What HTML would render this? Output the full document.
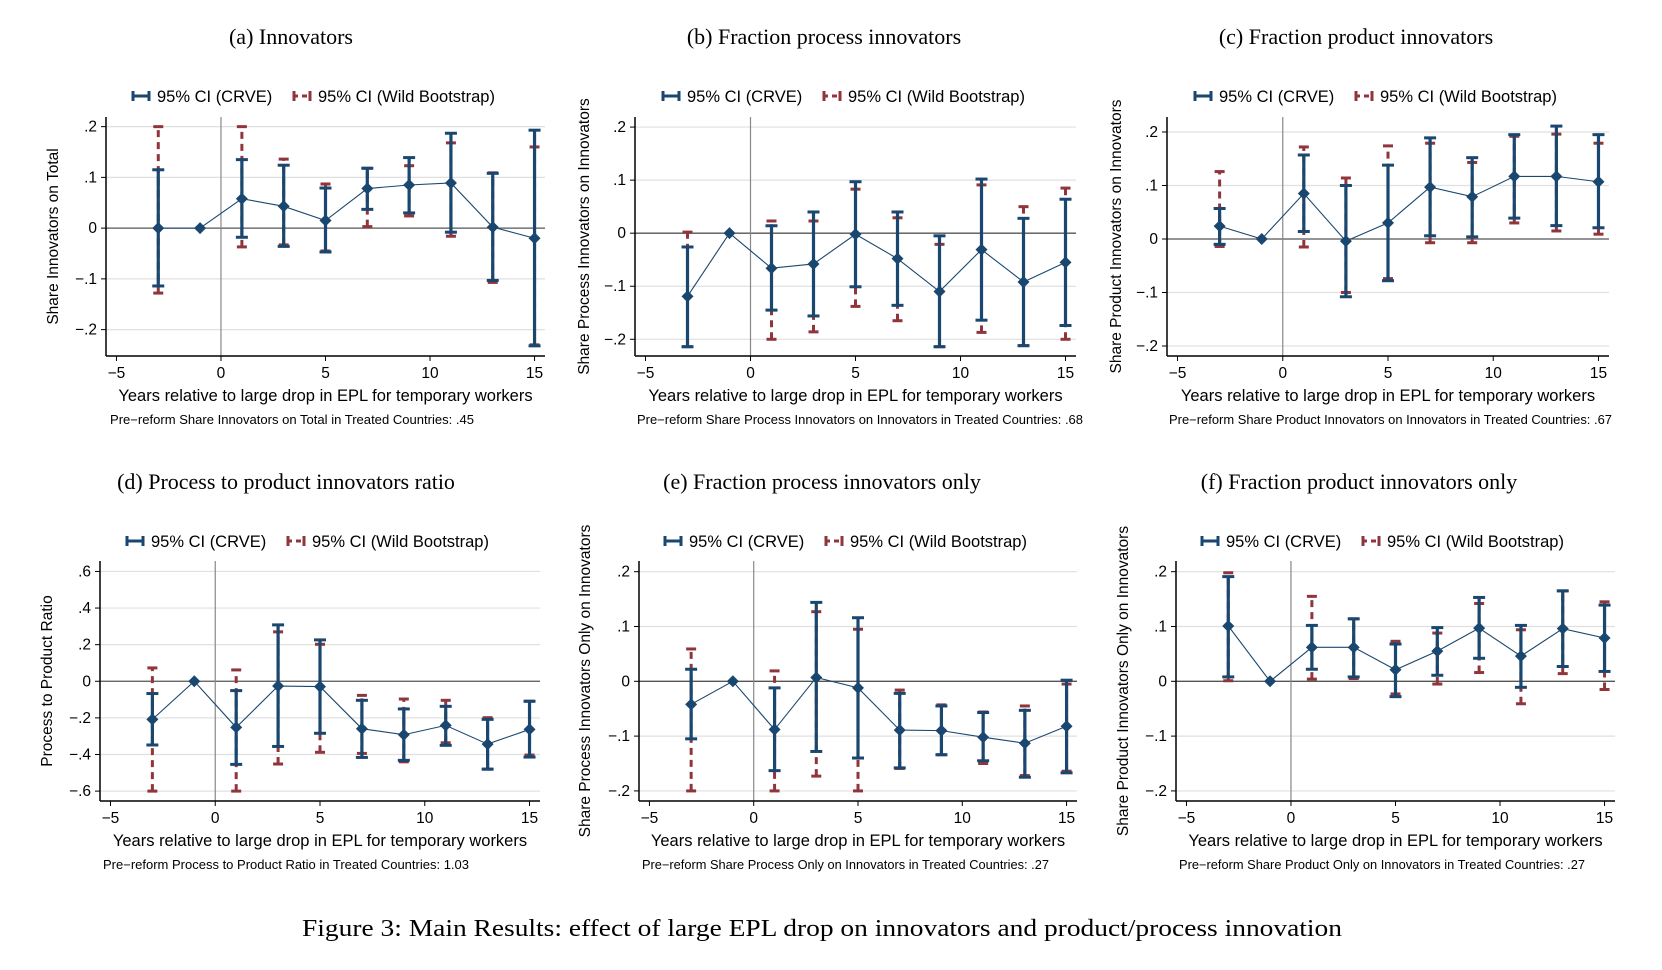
<!DOCTYPE html>
<html><head><meta charset="utf-8">
<style>
html,body{margin:0;padding:0;background:#fff;}
svg{display:block;}
text{font-family:"Liberation Sans",sans-serif;fill:#000;}
.serif{font-family:"Liberation Serif",serif;}
</style></head>
<body>
<svg id="fig" width="1662" height="970" viewBox="0 0 1662 970" xmlns="http://www.w3.org/2000/svg">
<text class="serif" x="822" y="936" text-anchor="middle" font-size="24" textLength="1040" lengthAdjust="spacingAndGlyphs">Figure 3: Main Results: effect of large EPL drop on innovators and product/process innovation</text>
</svg>
<script>
const years = [-3,-1,1,3,5,7,9,11,13,15];
const xTicks = [-5,0,5,10,15];
const xTickLabels = ["\u22125","0","5","10","15"];

// (a) Innovators
const aPt   = [0,0,0.058,0.043,0.015,0.078,0.085,0.089,0.002,-0.020];
const aCrLo = [-0.114,null,-0.018,-0.036,-0.047,0.037,0.030,-0.008,-0.103,-0.232];
const aCrHi = [0.115,null,0.135,0.124,0.079,0.118,0.139,0.187,0.108,0.193];
const aWbLo = [-0.128,null,-0.037,-0.033,-0.045,0.003,0.024,-0.016,-0.107,-0.230];
const aWbHi = [0.200,null,0.200,0.136,0.087,0.118,0.123,0.168,0.109,0.160];
const aTicks = [0.2,0.1,0,-0.1,-0.2];
const aTickLabels = [".2",".1","0","\u2212.1","\u2212.2"];

// (b) Fraction process innovators
const bPt   = [-0.119,0,-0.066,-0.058,-0.002,-0.048,-0.110,-0.031,-0.092,-0.055];
const bCrLo = [-0.214,null,-0.145,-0.156,-0.101,-0.136,-0.214,-0.164,-0.212,-0.174];
const bCrHi = [-0.026,null,0.014,0.040,0.097,0.040,-0.005,0.102,0.028,0.064];
const bWbLo = [-0.214,null,-0.200,-0.186,-0.138,-0.165,-0.214,-0.187,-0.212,-0.200];
const bWbHi = [0.002,null,0.023,0.023,0.083,0.029,-0.021,0.091,0.050,0.085];
const bTicks = [0.2,0.1,0,-0.1,-0.2];
const bTickLabels = [".2",".1","0","\u2212.1","\u2212.2"];

// (c) Fraction product innovators
const cPt   = [0.024,0,0.085,-0.004,0.030,0.097,0.079,0.117,0.117,0.107];
const cCrLo = [-0.010,null,0.014,-0.108,-0.078,0.006,0.004,0.039,0.025,0.021];
const cCrHi = [0.057,null,0.157,0.100,0.138,0.189,0.152,0.195,0.211,0.195];
const cWbLo = [-0.014,null,-0.015,-0.100,-0.074,-0.007,-0.007,0.030,0.015,0.009];
const cWbHi = [0.126,null,0.172,0.114,0.174,0.179,0.143,0.192,0.196,0.179];
const cTicks = [0.2,0.1,0,-0.1,-0.2];
const cTickLabels = [".2",".1","0","\u2212.1","\u2212.2"];

// (d) Process to product ratio
const dPt   = [-0.208,0,-0.252,-0.026,-0.029,-0.259,-0.292,-0.241,-0.343,-0.263];
const dCrLo = [-0.348,null,-0.454,-0.356,-0.284,-0.416,-0.432,-0.350,-0.480,-0.414];
const dCrHi = [-0.067,null,-0.051,0.308,0.226,-0.104,-0.151,-0.137,-0.208,-0.109];
const dWbLo = [-0.600,null,-0.600,-0.452,-0.388,-0.394,-0.440,-0.336,-0.480,-0.403];
const dWbHi = [0.073,null,0.062,0.270,0.202,-0.077,-0.097,-0.104,-0.199,-0.109];
const dTicks = [0.6,0.4,0.2,0,-0.2,-0.4,-0.6];
const dTickLabels = [".6",".4",".2","0","\u2212.2","\u2212.4","\u2212.6"];

// (e) Fraction process innovators only
const ePt   = [-0.042,0,-0.088,0.007,-0.012,-0.089,-0.090,-0.102,-0.113,-0.082];
const eCrLo = [-0.105,null,-0.163,-0.128,-0.140,-0.158,-0.134,-0.145,-0.175,-0.167];
const eCrHi = [0.022,null,-0.012,0.144,0.116,-0.022,-0.045,-0.057,-0.053,0.002];
const eWbLo = [-0.200,null,-0.200,-0.173,-0.200,-0.159,-0.134,-0.150,-0.172,-0.164];
const eWbHi = [0.059,null,0.019,0.127,0.095,-0.016,-0.043,-0.056,-0.045,-0.005];
const eTicks = [0.2,0.1,0,-0.1,-0.2];
const eTickLabels = [".2",".1","0","\u2212.1","\u2212.2"];

// (f) Fraction product innovators only
const fPt   = [0.101,0,0.062,0.062,0.021,0.055,0.097,0.046,0.096,0.079];
const fCrLo = [0.008,null,0.022,0.008,-0.028,0.011,0.042,-0.011,0.027,0.018];
const fCrHi = [0.191,null,0.102,0.114,0.068,0.098,0.153,0.102,0.165,0.139];
const fWbLo = [0.001,null,0.004,0.005,-0.023,-0.005,0.016,-0.041,0.014,-0.015];
const fWbHi = [0.198,null,0.155,0.114,0.073,0.088,0.142,0.094,0.165,0.145];
const fTicks = [0.2,0.1,0,-0.1,-0.2];
const fTickLabels = [".2",".1","0","\u2212.1","\u2212.2"];

const NAVY = "#1a476f", RED = "#90353b";
const svg = document.getElementById('fig');
const NS = "http://www.w3.org/2000/svg";
function mk(tag, attrs, parent){
  const e = document.createElementNS(NS, tag);
  for (const k in attrs) e.setAttribute(k, attrs[k]);
  (parent||svg).appendChild(e);
  return e;
}

const panels = [
 {id:'a', title:'(a) Innovators', titleX:291, L:106, R:545, T:117, B:356, ymin:-0.252, ymax:0.219, pt:aPt, crLo:aCrLo, crHi:aCrHi, wbLo:aWbLo, wbHi:aWbHi, ticks:aTicks, tl:aTickLabels, ylab:'Share Innovators on Total', ylabX:58, legX:132, note:'Pre\u2212reform Share Innovators on Total  in Treated Countries: .45', noteX:110, noteW:364},
 {id:'b', title:'(b) Fraction process innovators', titleX:824, L:635, R:1076, T:117, B:356, ymin:-0.2315, ymax:0.219, pt:bPt, crLo:bCrLo, crHi:bCrHi, wbLo:bWbLo, wbHi:bWbHi, ticks:bTicks, tl:bTickLabels, ylab:'Share Process Innovators on Innovators', ylabX:589, legX:662, note:'Pre\u2212reform Share Process Innovators on Innovators  in Treated Countries: .68', noteX:637, noteW:446},
 {id:'c', title:'(c) Fraction product innovators', titleX:1356, L:1167, R:1609, T:117, B:356, ymin:-0.2187, ymax:0.228, pt:cPt, crLo:cCrLo, crHi:cCrHi, wbLo:cWbLo, wbHi:cWbHi, ticks:cTicks, tl:cTickLabels, ylab:'Share Product Innovators on Innovators', ylabX:1121, legX:1194, note:'Pre\u2212reform Share Product Innovators on Innovators  in Treated Countries: .67', noteX:1169, noteW:443},
 {id:'d', title:'(d) Process to product innovators ratio', titleX:286, L:100, R:540, T:561, B:801, ymin:-0.654, ymax:0.657, pt:dPt, crLo:dCrLo, crHi:dCrHi, wbLo:dWbLo, wbHi:dWbHi, ticks:dTicks, tl:dTickLabels, ylab:'Process to Product Ratio', ylabX:52, legX:126, note:'Pre\u2212reform Process to Product Ratio  in Treated Countries: 1.03', noteX:103, noteW:366},
 {id:'e', title:'(e) Fraction process innovators only', titleX:822, L:639, R:1077, T:561, B:801, ymin:-0.2184, ymax:0.2195, pt:ePt, crLo:eCrLo, crHi:eCrHi, wbLo:eWbLo, wbHi:eWbHi, ticks:eTicks, tl:eTickLabels, ylab:'Share Process Innovators Only on Innovators', ylabX:590, legX:664, note:'Pre\u2212reform Share Process Only on Innovators in Treated Countries: .27', noteX:642, noteW:407},
 {id:'f', title:'(f) Fraction product innovators only', titleX:1359, L:1176, R:1615, T:561, B:801, ymin:-0.2184, ymax:0.2195, pt:fPt, crLo:fCrLo, crHi:fCrHi, wbLo:fWbLo, wbHi:fWbHi, ticks:fTicks, tl:fTickLabels, ylab:'Share Product Innovators Only on Innovators', ylabX:1128, legX:1201, note:'Pre\u2212reform Share Product Only on Innovators in Treated Countries: .27', noteX:1179, noteW:406}
];

panels.forEach(p => {
  const g = mk('g', {});
  
  
  const row2 = p.T > 400;
  const xs = v => p.L + (v + 5.5) / 21 * (p.R - p.L);
  const ys = v => p.B - (v - p.ymin) / (p.ymax - p.ymin) * (p.B - p.T);

  const t = mk('text', {x:p.titleX, y:row2?489:44, 'text-anchor':'middle', 'font-size':22, class:'serif'}, g);
  t.textContent = p.title;
  
  

  // legend
  const ly = row2 ? 541 : 96;
  const lg = mk('g', {}, g);
  
  
  const lx = p.legX;
  mk('line', {x1:lx, y1:ly, x2:lx+18, y2:ly, stroke:NAVY, 'stroke-width':3}, lg);
  mk('line', {x1:lx+1, y1:ly-5, x2:lx+1, y2:ly+5, stroke:NAVY, 'stroke-width':3}, lg);
  mk('line', {x1:lx+17, y1:ly-5, x2:lx+17, y2:ly+5, stroke:NAVY, 'stroke-width':3}, lg);
  const l1 = mk('text', {x:lx+25, y:ly+6, 'font-size':16.5}, lg);
  l1.textContent = '95% CI (CRVE)';
  
  
  const rx = lx + 161;
  mk('line', {x1:rx, y1:ly, x2:rx+18, y2:ly, stroke:RED, 'stroke-width':3, 'stroke-dasharray':'5,4'}, lg);
  mk('line', {x1:rx+1, y1:ly-5, x2:rx+1, y2:ly+5, stroke:RED, 'stroke-width':3}, lg);
  mk('line', {x1:rx+17, y1:ly-5, x2:rx+17, y2:ly+5, stroke:RED, 'stroke-width':3}, lg);
  const l2 = mk('text', {x:rx+25, y:ly+6, 'font-size':16.5}, lg);
  l2.textContent = '95% CI (Wild Bootstrap)';
  
  

  // grid & y ticks
  p.ticks.forEach((v, i) => {
    const y = ys(v);
    mk('line', {x1:p.L, y1:y, x2:p.R, y2:y, stroke: v===0 ? '#555' : '#e0e0e0', 'stroke-width': v===0?1.3:1.2}, g);
    mk('line', {x1:p.L-5, y1:y, x2:p.L, y2:y, stroke:'#000', 'stroke-width':1}, g);
    const tt = mk('text', {x:p.L-9, y:y+5, 'text-anchor':'end', 'font-size':15.5}, g);
    tt.textContent = p.tl[i];
    
    
  });
  // vertical line at 0
  mk('line', {x1:xs(0), y1:p.T, x2:xs(0), y2:p.B, stroke:'#888', 'stroke-width':1.2}, g);
  // axes
  mk('line', {x1:p.L, y1:p.T, x2:p.L, y2:p.B, stroke:'#000', 'stroke-width':1.5}, g);
  mk('line', {x1:p.L, y1:p.B, x2:p.R, y2:p.B, stroke:'#000', 'stroke-width':1.5}, g);
  xTicks.forEach((v, i) => {
    const x = xs(v);
    mk('line', {x1:x, y1:p.B, x2:x, y2:p.B+5, stroke:'#000', 'stroke-width':1}, g);
    const tt = mk('text', {x:x, y:p.B+22, 'text-anchor':'middle', 'font-size':15.5}, g);
    tt.textContent = xTickLabels[i];
    
    
  });
  const xl = mk('text', {x:(p.L+p.R)/2, y:p.B+45, 'text-anchor':'middle', 'font-size':16.5}, g);
  xl.textContent = 'Years relative to large drop in EPL for temporary workers';
  
  
  const cy = (p.T + p.B) / 2;
  const yl = mk('text', {x:p.ylabX, y:cy, 'text-anchor':'middle', 'font-size':15.5, transform:`rotate(-90 ${p.ylabX} ${cy})`}, g);
  yl.textContent = p.ylab;
  
  
  const nt = mk('text', {x:p.noteX, y:p.B+68, 'font-size':12.5, textLength:p.noteW, lengthAdjust:'spacingAndGlyphs'}, g);
  nt.textContent = p.note;
  
  

  // wild bootstrap CIs
  years.forEach((yr, i) => {
    if (p.wbLo[i] === null) return;
    const x = xs(yr), y1 = ys(p.wbLo[i]), y2 = ys(p.wbHi[i]);
    const ln = mk('line', {x1:x, y1:y1, x2:x, y2:y2, stroke:RED, 'stroke-width':3, 'stroke-dasharray':'7,5'}, g);
    
    
    mk('line', {x1:x-5, y1:y1, x2:x+5, y2:y1, stroke:RED, 'stroke-width':3}, g);
    mk('line', {x1:x-5, y1:y2, x2:x+5, y2:y2, stroke:RED, 'stroke-width':3}, g);
  });
  // CRVE CIs
  years.forEach((yr, i) => {
    if (p.crLo[i] === null) return;
    const x = xs(yr), y1 = ys(p.crLo[i]), y2 = ys(p.crHi[i]);
    const ln = mk('line', {x1:x, y1:y1, x2:x, y2:y2, stroke:NAVY, 'stroke-width':3.2}, g);
    
    
    mk('line', {x1:x-6, y1:y1, x2:x+6, y2:y1, stroke:NAVY, 'stroke-width':3}, g);
    mk('line', {x1:x-6, y1:y2, x2:x+6, y2:y2, stroke:NAVY, 'stroke-width':3}, g);
  });
  // connecting line
  const pts = years.map((yr, i) => xs(yr) + ',' + ys(p.pt[i])).join(' ');
  const pl = mk('polyline', {points:pts, fill:'none', stroke:NAVY, 'stroke-width':1.1}, g);
  
  
  years.forEach((yr, i) => {
    const x = xs(yr), y = ys(p.pt[i]), r = 6;
    const d = mk('polygon', {points:`${x},${y-r} ${x+r},${y} ${x},${y+r} ${x-r},${y}`, fill:NAVY}, g);
    
    
  });
});
</script>
</body></html>
